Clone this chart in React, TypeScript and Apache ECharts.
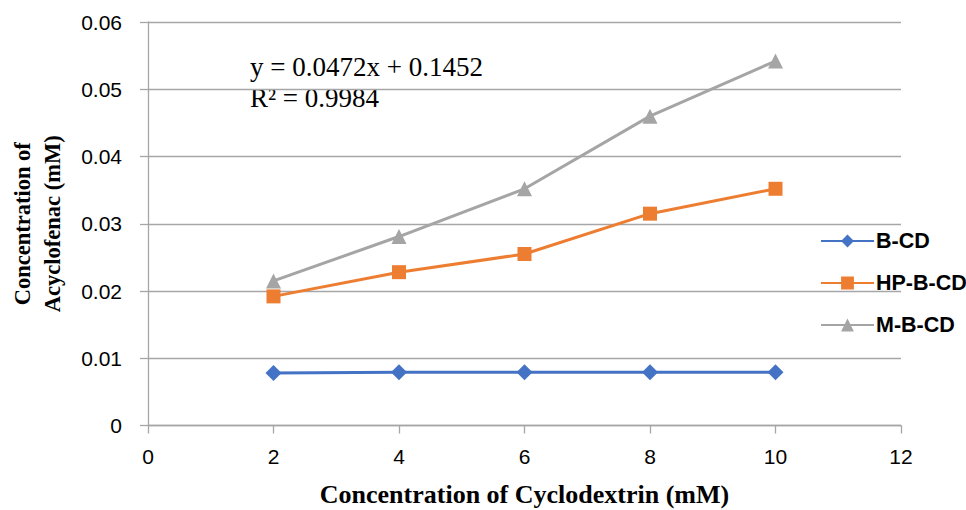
import React, { useEffect, useRef } from "react";
import * as echarts from "echarts";

const xValues = [2, 4, 6, 8, 10];
const bcd = [0.0078, 0.0079, 0.0079, 0.0079, 0.0079];
const hpbcd = [0.0192, 0.0228, 0.0255, 0.0315, 0.0352];
const mbcd = [0.0215, 0.0281, 0.0352, 0.046, 0.0542];
const seriesNames = ["B-CD", "HP-B-CD", "M-B-CD"];
const equationLines = ["y = 0.0472x + 0.1452", "R² = 0.9984"];

const pair = (ys: number[]) => xValues.map((x, i) => [x, ys[i]]);

export default function App() {
  const ref = useRef<HTMLDivElement>(null);
  useEffect(() => {
    if (!ref.current) return;
    const chart = echarts.init(ref.current, null, { renderer: "svg" });
    const grey = "#a6a6a6";
    const labelFont = { fontFamily: "Liberation Sans", fontSize: 21, color: "#000" };
    chart.setOption({
      animation: false,
      backgroundColor: "#fff",
      grid: { left: 148, right: 65, top: 22, bottom: 84.5, outerBoundsMode: "none", containLabel: false },
      xAxis: {
        type: "value",
        min: 0,
        max: 12,
        interval: 2,
        axisLine: { show: true, lineStyle: { color: grey, width: 1.3 } },
        axisTick: { show: true, length: 8, lineStyle: { color: grey, width: 1.3 } },
        splitLine: { show: false },
        axisLabel: { ...labelFont, margin: 20 },
        name: "Concentration of Cyclodextrin (mM)",
        nameLocation: "middle",
        nameGap: 56,
        nameTextStyle: { fontFamily: "Liberation Serif", fontWeight: "bold", fontSize: 26, color: "#000" },
      },
      yAxis: {
        type: "value",
        min: 0,
        max: 0.06,
        interval: 0.01,
        axisLine: { show: true, lineStyle: { color: grey, width: 1.3 } },
        axisTick: { show: true, length: 8, lineStyle: { color: grey, width: 1.3 } },
        splitLine: { show: true, lineStyle: { color: grey, width: 1.3 } },
        axisLabel: {
          ...labelFont,
          margin: 26,
          formatter: (v: number) => (v === 0 ? "0" : v.toFixed(2)),
        },
        name: "Concentration of\nAcyclofenac (mM)",
        nameLocation: "middle",
        nameGap: 81,
        nameTextStyle: {
          fontFamily: "Liberation Serif",
          fontWeight: "bold",
          fontSize: 22.5,
          color: "#000",
          lineHeight: 30,
        },
      },
      legend: {
        orient: "vertical",
        left: 815,
        top: 225,
        itemWidth: 53,
        itemHeight: 16,
        itemGap: 20,
        textStyle: { fontFamily: "Liberation Sans", fontWeight: "bold", fontSize: 21.5, color: "#000", padding: [0, 0, 0, -3] },
        data: seriesNames,
      },
      graphic: [
        {
          type: "text",
          left: 250,
          top: 51,
          style: {
            text: equationLines.join("\n"),
            font: "27px 'Liberation Serif'",
            lineHeight: 31,
            fill: "#000",
          },
        },
      ],
      series: [
        {
          name: seriesNames[0],
          type: "line",
          data: pair(bcd),
          symbol: "diamond",
          symbolSize: 16,
          lineStyle: { color: "#4472C4", width: 3 },
          itemStyle: { color: "#4472C4" },
        },
        {
          name: seriesNames[1],
          type: "line",
          data: pair(hpbcd),
          symbol: "rect",
          symbolSize: 14,
          lineStyle: { color: "#ED7D31", width: 3 },
          itemStyle: { color: "#ED7D31" },
        },
        {
          name: seriesNames[2],
          type: "line",
          data: pair(mbcd),
          symbol: "triangle",
          symbolSize: 15,
          lineStyle: { color: "#A5A5A5", width: 3 },
          itemStyle: { color: "#A5A5A5" },
        },
      ],
    });
    return () => chart.dispose();
  }, []);
  return (
    <div
      ref={ref}
      style={{ position: "fixed", left: 0, top: 0, width: 966, height: 510 }}
    />
  );
}
